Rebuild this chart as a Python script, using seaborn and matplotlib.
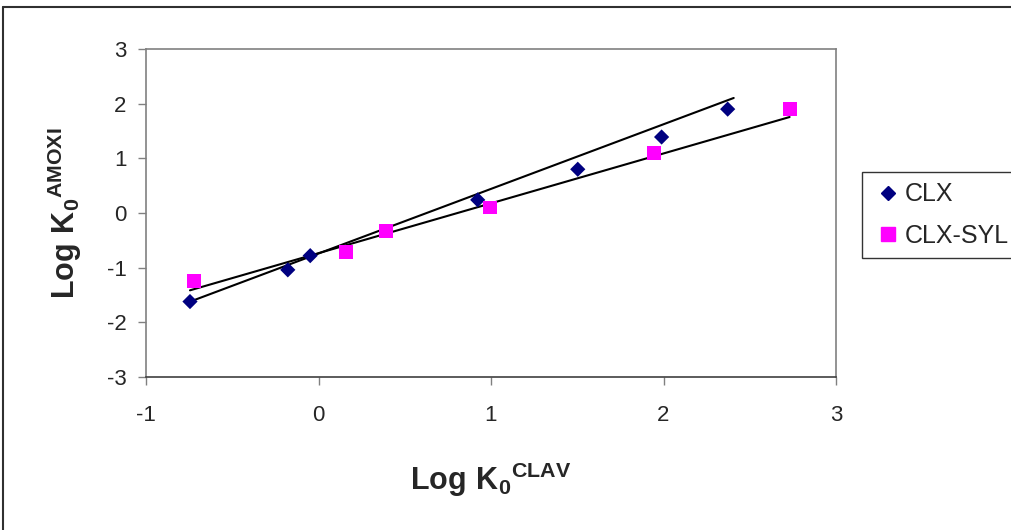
import numpy as np
import pandas as pd
import seaborn as sns
import matplotlib.pyplot as plt
from matplotlib.lines import Line2D

# values
clx_x = [-0.745, -0.178, -0.048, 0.923, 1.503, 1.989, 2.372]
clx_y = [-1.62, -1.04, -0.78, 0.24, 0.80, 1.39, 1.90]
syl_x = [-0.721, 0.160, 0.391, 0.992, 1.944, 2.731]
syl_y = [-1.25, -0.71, -0.335, 0.10, 1.09, 1.90]
series_names = ["CLX", "CLX-SYL"]
# trendline (slope, intercept) as drawn in the reference
trend_slope = [1.182, 0.912]
trend_intercept = [-0.741, -0.735]
trend_range = [(-0.766, 2.407), (-0.745, 2.731)]
x_ticks = [-1, 0, 1, 2, 3]
y_ticks = [-3, -2, -1, 0, 1, 2, 3]

points = {
    "CLX": pd.DataFrame({"x": clx_x, "y": clx_y}),
    "CLX-SYL": pd.DataFrame({"x": syl_x, "y": syl_y}),
}

sns.set_style("white")
plt.rcParams["font.family"] = ["Liberation Sans", "DejaVu Sans"]
plt.rcParams["axes.unicode_minus"] = False
plt.rcParams["mathtext.fontset"] = "custom"
plt.rcParams["mathtext.rm"] = "Liberation Sans"
plt.rcParams["mathtext.bf"] = "Liberation Sans:bold"

colors = {"CLX": "#000080", "CLX-SYL": "#FF00FF"}
markers = {"CLX": "D", "CLX-SYL": "s"}
sizes = {"CLX": 60, "CLX-SYL": 100}

fig = plt.figure(figsize=(10.11, 5.30), dpi=100)
ax = fig.add_axes([146 / 1011, 1 - 377 / 530, 690 / 1011, 328 / 530])

for name, k, b, (x0, x1) in zip(series_names, trend_slope, trend_intercept, trend_range):
    xs = np.array([x0, x1])
    line = pd.DataFrame({"x": xs, "y": k * xs + b})
    sns.lineplot(data=line, x="x", y="y", ax=ax, color="black", lw=1.5, zorder=2)

for name in series_names:
    sns.scatterplot(
        data=points[name], x="x", y="y", ax=ax, color=colors[name],
        marker=markers[name], s=sizes[name], edgecolor="none", zorder=3,
    )

ax.set_xlim(-1, 3)
ax.set_ylim(-3, 3)
ax.set_xticks(x_ticks)
ax.set_yticks(y_ticks)
ax.tick_params(axis="both", direction="out", length=6, width=1, color="#808080",
               labelsize=16, left=True, bottom=True)
ax.tick_params(axis="x", pad=14)
ax.tick_params(axis="y", pad=8)
for side in ax.spines.values():
    side.set_color("#808080")
    side.set_linewidth(1.2)
ax.spines["bottom"].set_color("#404040")

ax.set_xlabel(r"$\mathbf{Log\ K_0}^{\mathbf{CLAV}}$", fontsize=22, labelpad=25)
ax.set_ylabel(r"$\mathbf{Log\ K_0}^{\mathbf{AMOXI}}$", fontsize=22, labelpad=16)

handles = [
    Line2D([], [], ls="none", marker=markers[n], color=colors[n],
           markersize=7 if n == "CLX" else 10, label=n)
    for n in series_names
]
leg = fig.legend(
    handles=handles, loc="upper left", bbox_to_anchor=(862 / 1011, 1 - 172 / 530),
    frameon=True, fancybox=False, fontsize=18, handlelength=1.2,
    handletextpad=0.1, labelspacing=0.7, borderpad=0.42, borderaxespad=0,
)
leg.get_frame().set_edgecolor("black")
leg.get_frame().set_linewidth(1)

# chart-area border
fig.add_artist(Line2D([3 / 1011, 1], [1 - 7 / 530, 1 - 7 / 530], color="#303030", lw=1.5,
                      transform=fig.transFigure))
fig.add_artist(Line2D([3 / 1011, 3 / 1011], [0, 1 - 7 / 530], color="#303030", lw=1.5,
                      transform=fig.transFigure))

fig.savefig("out.png", dpi=100)
